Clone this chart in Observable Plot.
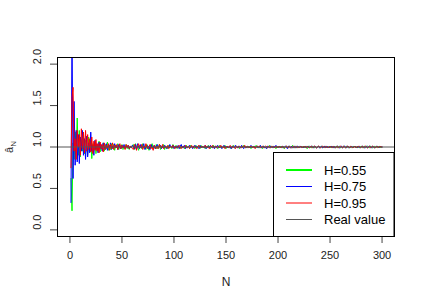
<!DOCTYPE html>
<html>
<head>
<meta charset="utf-8">
<script src="https://cdn.jsdelivr.net/npm/d3@7"></script>
<script src="https://cdn.jsdelivr.net/npm/@observablehq/plot@0.6"></script>
<style>
  html, body { margin: 0; padding: 0; background: #fff; }
  #chart { width: 424px; height: 308px; }
  svg { font-family: "Liberation Sans", Arial, sans-serif; }
</style>
</head>
<body>
<div id="chart"></div>
<script>
const xTicks = [0, 50, 100, 150, 200, 250, 300];
const yTicks = [0.0, 0.5, 1.0, 1.5, 2.0];
const seriesNames = ["H=0.55", "H=0.75", "H=0.95"];
const seriesColors = ["#00ff00", "#0000ff", "#ff0000"];
const realValue = 1;
const legendLabels = ["H=0.55", "H=0.75", "H=0.95", "Real value"];
const legendColors = ["#00ff00", "#0000ff", "#ff0000", "#555555"];

const h055 = [
  0.62,0.23,1.05,0.85,1.18,0.95,1.35,0.90,1.20,0.88,1.10,0.95,1.15,0.92,1.08,
  1.05,0.90,1.12,0.95,1.08,0.86,1.04,0.97,1.06,0.92,1.03,0.96,1.07,0.94,1.02,
  0.97,1.05,0.95,1.03,0.98,1.06,0.96,1.02,0.97,1.04,0.98,1.03,0.96,1.02,0.99,
  1.04,0.97,1.02,0.98,1.03,0.97,1.01,0.99,1.03,0.98,1.02,0.97,1.01,0.99,1.02,
  1.03,0.97,1.04,0.99,1.01,0.96,1.02,1.00,0.98,1.04,0.99,1.01,0.97,1.03,1.00,0.96,1.02,0.99,1.04,0.98,
  1.01,0.98,1.03,0.98,1.00,1.03,0.97,1.01,0.99,1.03,0.97,1.01,1.00,0.98,1.02,0.99,1.01,0.98,1.03,1.00,
  0.99,1.02,0.98,1.01,1.00,0.98,1.02,0.99,1.01,0.98,1.00,1.02,0.99,1.01,0.98,1.02,1.00,0.99,1.01,0.98,
  1.02,0.99,1.00,1.01,0.98,1.02,0.99,1.01,1.00,0.98,1.01,0.99,1.02,1.00,0.98,1.01,0.99,1.02,0.99,1.00,
  1.01,0.98,1.00,1.02,0.99,1.01,0.99,1.00,1.02,0.98,1.01,1.00,0.99,1.01,0.98,1.00,1.02,0.99,1.00,1.01,
  0.99,1.01,0.98,1.00,1.01,0.99,1.02,1.00,0.99,1.01,0.99,1.00,1.01,0.98,1.00,1.01,0.99,1.00,1.02,0.99,
  1.00,0.99,1.01,1.00,0.98,1.01,1.00,0.99,1.01,0.99,1.00,1.02,0.99,1.00,1.01,0.99,1.00,0.98,1.01,1.00,
  0.99,1.01,1.00,0.99,1.01,0.98,1.00,1.01,0.99,1.00,1.01,0.99,1.00,1.02,0.99,1.00,1.01,0.99,1.00,0.99,
  1.01,1.00,0.99,1.01,0.99,1.00,1.01,0.98,1.00,1.01,1.00,0.99,1.01,1.00,0.99,1.01,0.99,1.00,1.01,0.99,
  1.00,1.01,0.99,1.00,1.01,0.99,1.00,0.99,1.01,1.00,0.99,1.01,1.00,0.99,1.00,1.01,0.99,1.00,1.01,0.99,
  1.00,0.99,1.01,1.00,0.99,1.01,1.00,0.99,1.00,1.01,0.99,1.00,1.01,1.00,0.99,1.01,1.00,0.99,1.00,1.01,
  0.99,1.00,1.01,0.99,1.00,1.01,1.00,0.99,1.01,1.00,0.99,1.00,1.01,0.99,1.00,1.01,1.00,0.99,1.00,1.00
];
const h075 = [
  0.33,2.40,0.62,1.55,0.78,1.20,0.82,1.15,0.80,1.12,0.95,1.20,0.90,1.10,0.85,
  1.13,0.88,1.05,0.93,1.18,0.95,1.02,0.90,1.08,0.97,1.04,0.93,1.06,0.98,1.03,
  0.95,1.05,1.00,0.97,1.04,0.96,1.02,0.99,1.05,0.97,1.01,0.98,1.04,0.99,1.02,
  0.97,1.03,1.00,0.98,1.02,0.99,1.03,0.98,1.01,1.00,1.02,0.98,1.01,0.99,1.02,
  1.01,0.98,1.03,0.97,1.04,1.00,0.98,1.03,0.99,1.01,1.04,0.97,1.00,1.02,0.98,1.01,0.97,1.03,1.00,0.99,
  1.02,0.98,1.01,1.03,0.99,1.00,1.02,0.98,1.01,0.99,1.02,1.00,0.98,1.01,0.99,1.03,1.00,0.99,1.02,0.98,
  1.01,1.00,0.99,1.02,0.98,1.01,1.03,0.99,1.00,1.02,0.98,1.01,0.99,1.00,1.02,0.99,1.01,0.98,1.00,1.02,
  0.99,1.01,1.00,0.98,1.02,0.99,1.01,1.00,0.99,1.02,0.98,1.00,1.01,0.99,1.02,1.00,0.99,1.01,0.98,1.01,
  1.00,1.02,0.99,1.00,1.01,0.98,1.00,1.02,0.99,1.01,1.00,0.99,1.01,1.00,0.98,1.01,1.00,0.99,1.02,1.00,
  0.99,1.01,1.00,0.99,1.02,1.00,0.98,1.01,1.00,0.99,1.01,1.00,0.99,1.02,0.99,1.00,1.01,0.99,1.00,1.01,
  0.99,1.00,1.02,0.99,1.00,1.01,0.99,1.00,0.98,1.01,1.00,0.99,1.01,1.00,0.99,1.01,1.00,1.02,0.99,1.00,
  1.01,0.99,1.00,1.01,0.99,1.00,1.01,1.00,0.98,1.01,1.00,0.99,1.01,0.99,1.00,1.01,0.99,1.00,1.01,1.00,
  0.99,1.01,1.00,0.99,1.00,1.01,0.99,1.00,1.01,0.99,1.00,1.01,1.00,0.99,1.01,1.00,0.99,1.00,1.01,0.99,
  1.00,1.01,0.99,1.00,1.01,0.99,1.01,1.00,0.99,1.00,1.01,1.00,0.99,1.01,0.99,1.00,1.01,1.00,0.99,1.00,
  1.01,0.99,1.00,1.01,1.00,0.99,1.01,1.00,0.99,1.00,1.01,0.99,1.00,1.01,1.00,0.99,1.00,1.01,0.99,1.00,
  1.01,1.00,0.99,1.00,1.01,0.99,1.00,1.01,1.00,0.99,1.01,1.00,0.99,1.00,1.01,1.00,0.99,1.01,1.00,1.00
];
const h095 = [
  0.75,1.60,1.72,0.95,1.10,0.85,1.20,1.00,1.15,0.90,1.22,0.98,1.18,0.93,1.20,
  0.95,1.15,0.97,1.10,0.94,1.12,0.92,1.07,0.96,1.09,0.95,1.04,0.93,1.06,0.98,
  1.03,0.94,1.05,0.97,1.02,0.99,1.04,0.96,1.03,0.98,1.05,0.97,1.02,0.99,1.03,
  0.97,1.01,1.04,0.98,1.02,0.99,1.01,0.97,1.03,0.99,1.02,0.98,1.01,1.00,0.98,
  0.97,1.03,1.00,0.96,1.01,1.04,0.99,1.00,1.03,0.97,1.01,0.99,1.04,1.00,0.98,1.01,1.03,0.98,1.00,0.96,
  1.02,1.00,0.98,1.01,0.98,1.03,1.00,0.99,1.03,0.98,1.00,1.01,0.99,1.02,0.98,1.00,1.01,0.99,1.02,1.00,
  0.98,1.01,1.00,0.99,1.02,1.00,0.98,1.01,0.99,1.00,1.02,0.99,1.00,1.01,0.98,1.00,1.02,0.99,1.01,1.00,
  1.00,0.98,1.01,1.02,0.99,1.00,1.01,0.99,1.00,1.02,0.99,1.01,1.00,0.98,1.01,1.00,1.02,0.99,1.00,1.01,
  0.99,1.00,1.01,0.99,1.02,1.00,0.99,1.01,0.98,1.00,1.01,1.00,0.99,1.02,1.00,0.99,1.01,1.00,0.98,1.01,
  1.00,0.99,1.01,1.00,0.99,1.01,1.00,1.02,0.99,1.00,1.01,0.99,1.00,1.01,1.00,0.99,1.01,0.98,1.00,1.01,
  1.00,1.01,0.99,1.00,1.01,0.99,1.00,1.01,1.00,0.99,1.01,1.00,0.99,1.01,1.00,1.00,0.99,1.01,1.00,0.99,
  1.01,1.00,0.99,1.01,1.00,0.99,1.00,1.01,1.00,0.99,1.01,1.00,0.99,1.00,1.01,0.99,1.00,1.01,0.99,1.00,
  1.00,1.01,0.99,1.00,1.01,1.00,0.99,1.01,1.00,0.99,1.00,1.01,0.99,1.00,1.01,1.00,0.99,1.00,1.01,1.00,
  0.99,1.00,1.01,1.00,0.99,1.01,1.00,0.99,1.00,1.01,1.00,0.99,1.01,1.00,0.99,1.00,1.01,0.99,1.00,1.01,
  1.00,0.99,1.01,1.00,0.99,1.00,1.01,1.00,0.99,1.01,1.00,0.99,1.00,1.01,0.99,1.00,1.01,1.00,0.99,1.00,
  1.01,0.99,1.00,1.01,1.00,0.99,1.00,1.01,0.99,1.00,1.01,1.00,0.99,1.00,1.01,0.99,1.00,1.01,1.00,1.00
];

const allSeries = [h055, h075, h095];
const rows = [];
allSeries.forEach((vals, s) => {
  vals.forEach((v, i) => rows.push({N: i + 1, value: v, series: seriesNames[s]}));
});

const chart = Plot.plot({
  width: 424,
  height: 308,
  marginLeft: 57,
  marginRight: 30,
  marginTop: 57,
  marginBottom: 72,
  style: {fontFamily: "Liberation Sans, Arial, sans-serif", fontSize: "11px", background: "#fff", color: "#000"},
  x: {domain: [-11.96, 311.96]},
  y: {domain: [-0.08, 2.08]},
  color: {domain: seriesNames, range: seriesColors},
  marks: [
    Plot.line(rows, {x: "N", y: "value", z: "series", stroke: "series", strokeWidth: 1, clip: true}),
    Plot.ruleY([realValue], {stroke: "#555", strokeWidth: 1}),
    Plot.axisX({ticks: xTicks, tickSize: 7, tickPadding: 8, fontSize: 11, label: null, stroke: "#444", fill: "#222"}),
    Plot.axisY({ticks: yTicks, tickSize: 7, tickFormat: () => "", label: null, stroke: "#444"}),
    Plot.text(yTicks, {y: d => d, text: d => d3.format(".1f")(d), frameAnchor: "left", dx: -20, rotate: -90, fontSize: 11, fill: "#222"}),
    Plot.text(["N"], {text: d => d, frameAnchor: "bottom", dy: 49, fontSize: 12, fill: "#222"}),
    Plot.frame({stroke: "#000", strokeWidth: 1})
  ]
});
document.getElementById("chart").appendChild(chart);

const svg = d3.select(chart);
// y-axis label (â with subscript N)
const yl = svg.append("text")
  .attr("transform", "translate(13,147) rotate(-90)")
  .attr("text-anchor", "middle")
  .attr("font-size", 11)
  .attr("fill", "#333");
yl.append("tspan").text("â");
yl.append("tspan").attr("font-size", 8).attr("dy", 3).text("N");

// legend (bottom right, inset 0)
const lg = svg.append("g").attr("text-anchor", "start");
lg.append("rect").attr("x", 273.5).attr("y", 152.5).attr("width", 120.5).attr("height", 84)
  .attr("fill", "#fff").attr("stroke", "#000");
const rowY = [170, 186.5, 203, 219.5];
legendLabels.forEach((lab, i) => {
  lg.append("line").attr("x1", 286).attr("x2", 312).attr("y1", rowY[i]).attr("y2", rowY[i])
    .attr("stroke", legendColors[i]).attr("stroke-width", i === 0 ? 2 : 1);
  lg.append("text").attr("x", 324).attr("y", rowY[i]).attr("dy", "0.35em")
    .attr("text-anchor", "start")
    .attr("font-size", 13).attr("fill", "#000").text(lab);
});
</script>
</body>
</html>
